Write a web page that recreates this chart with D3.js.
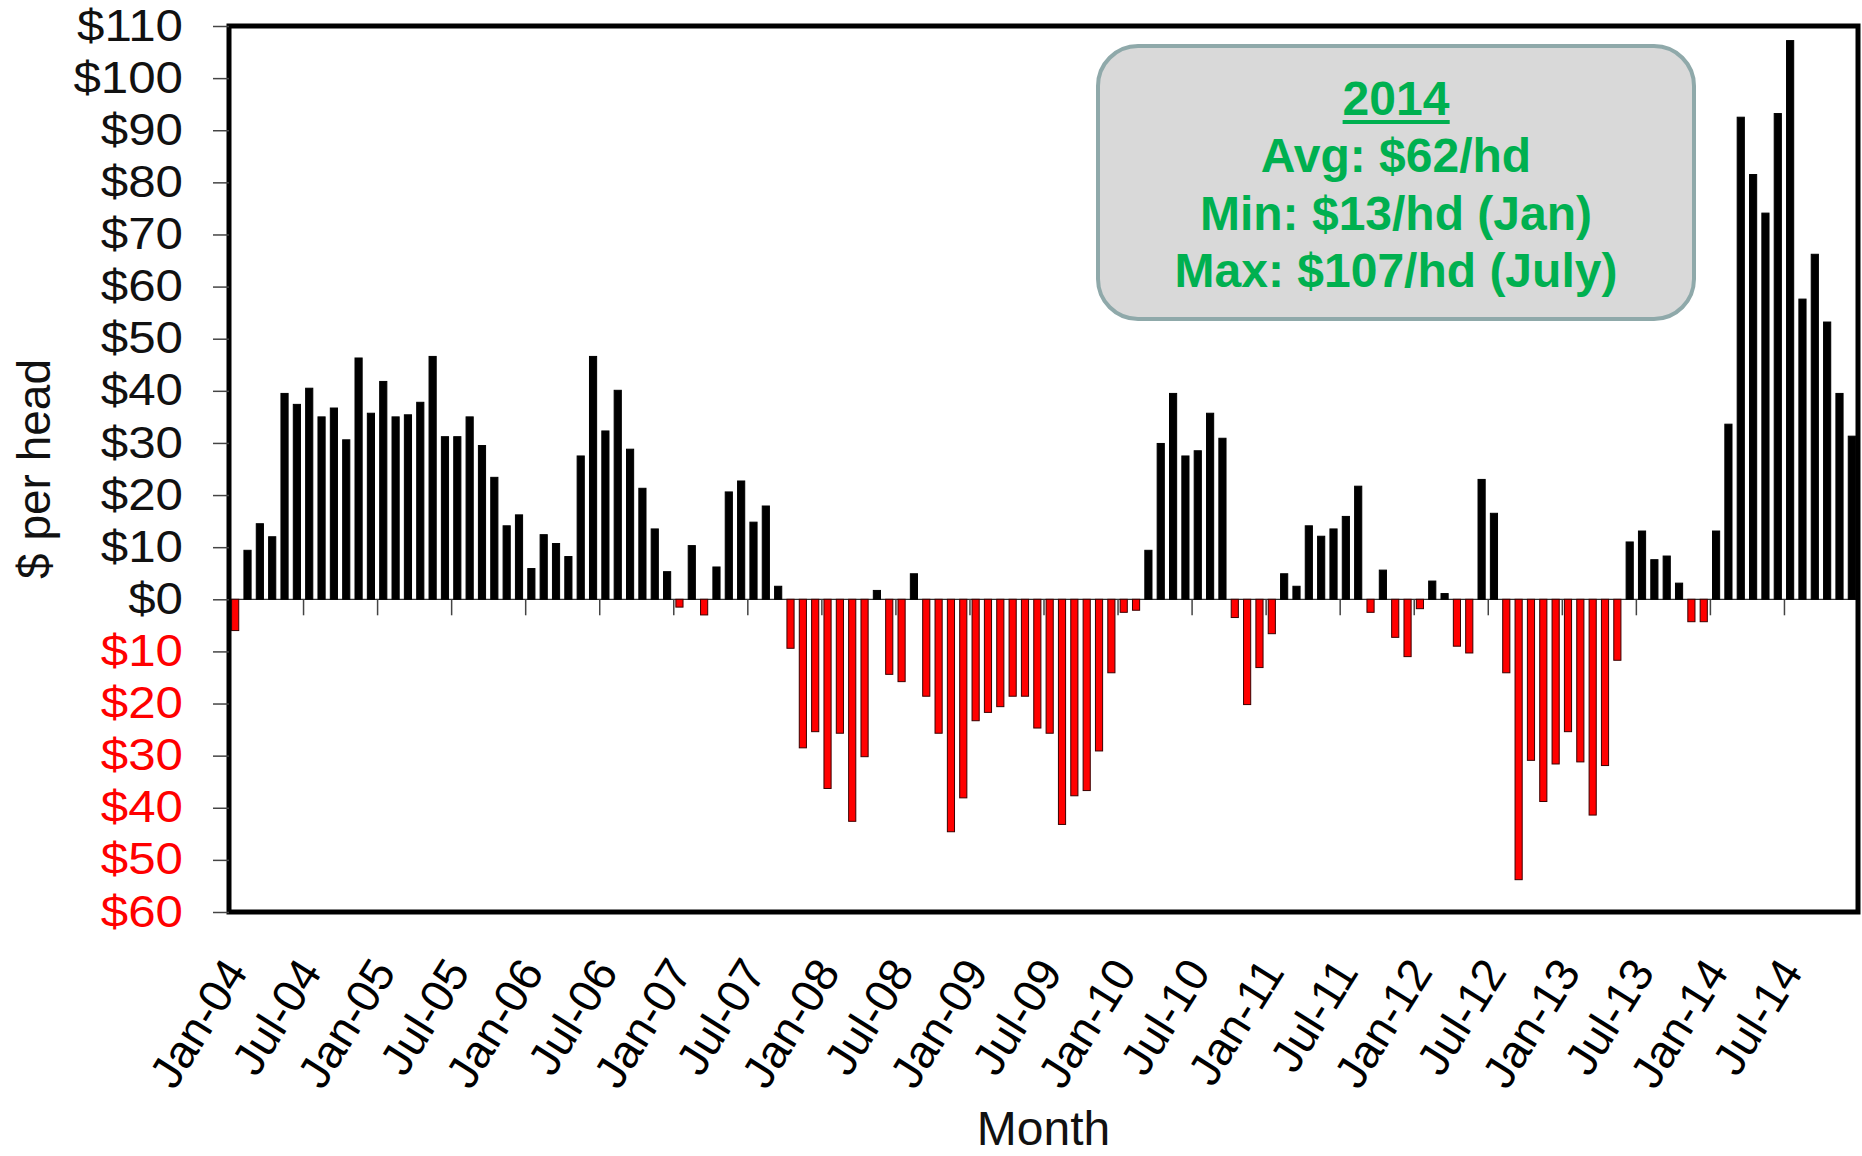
<!DOCTYPE html>
<html>
<head>
<meta charset="utf-8">
<script src="https://cdn.jsdelivr.net/npm/d3@7"></script>
<style>
  body { margin: 0; background: #fff; }
  svg { display: block; font-family: "Liberation Sans", Arial, sans-serif; }
</style>
</head>
<body>
<svg id="chart" width="1862" height="1156"></svg>
<script>
// monthly margin, $ per head, Jan-04 .. Dec-14
const years = ['04', '05', '06', '07', '08', '09', '10', '11', '12', '13', '14'];
const monthNames = ['Jan', 'Feb', 'Mar', 'Apr', 'May', 'Jun', 'Jul', 'Aug', 'Sep', 'Oct', 'Nov', 'Dec'];
const months = years.flatMap(y => monthNames.map(m => `${m}-${y}`));

const values = [
  -6, 9.4, 14.5, 12.0, 39.5, 37.4, 40.5, 35.0, 36.7, 30.6, 46.3, 35.7,          // 2004
  41.8, 35.0, 35.4, 37.8, 46.6, 31.2, 31.2, 35.0, 29.5, 23.4, 14.1, 16.2,       // 2005
  5.9, 12.4, 10.7, 8.2, 27.5, 46.6, 32.3, 40.1, 28.8, 21.3, 13.5, 5.3,          // 2006
  -1.5, 10.3, -3.0, 6.2, 20.6, 22.7, 14.8, 17.9, 2.5, -9.4, -28.5, -25.4,       // 2007
  -36.3, -25.7, -42.6, -30.2, 1.7, -14.4, -15.8, 4.9, -18.6, -25.7, -44.6, -38.1, // 2008
  -23.3, -21.7, -20.6, -18.6, -18.6, -24.7, -25.7, -43.2, -37.7, -36.7, -29.1, -14.1, // 2009
  -2.5, -2.1, 9.4, 29.9, 39.5, 27.5, 28.5, 35.7, 30.9, -3.5, -20.2, -13.1,      // 2010
  -6.6, 4.9, 2.5, 14.1, 12.1, 13.5, 15.9, 21.7, -2.5, 5.6, -7.3, -11.0,         // 2011
  -1.8, 3.5, 1.1, -9.0, -10.3, 23.0, 16.5, -14.1, -53.8, -30.9, -38.8, -31.6,   // 2012
  -25.4, -31.2, -41.4, -31.9, -11.7, 11.0, 13.1, 7.6, 8.3, 3.1, -4.3, -4.3,     // 2013
  13.1, 33.6, 92.5, 81.5, 74.1, 93.2, 107.2, 57.6, 66.2, 53.2, 39.5, 31.3       // 2014
];

const xTickLabels = ['Jan-04', 'Jul-04', 'Jan-05', 'Jul-05', 'Jan-06', 'Jul-06', 'Jan-07', 'Jul-07',
  'Jan-08', 'Jul-08', 'Jan-09', 'Jul-09', 'Jan-10', 'Jul-10', 'Jan-11', 'Jul-11',
  'Jan-12', 'Jul-12', 'Jan-13', 'Jul-13', 'Jan-14', 'Jul-14'];
const yTicks = [-60, -50, -40, -30, -20, -10, 0, 10, 20, 30, 40, 50, 60, 70, 80, 90, 100, 110];

const noteLines = ['2014', 'Avg: $62/hd', 'Min: $13/hd (Jan)', 'Max: $107/hd (July)'];

const plot = { left: 229, right: 1858, top: 26, bottom: 912 };
const svg = d3.select('#chart');

const x = d3.scaleBand()
  .domain(months)
  .range([plot.left, plot.right])
  .paddingInner(0.42)
  .paddingOuter(0.21);

// month boundaries, for the tick marks
const xEdge = d3.scaleLinear()
  .domain([0, months.length])
  .range([plot.left, plot.right]);

const y = d3.scaleLinear()
  .domain([-60, 110])
  .range([plot.bottom, plot.top]);

// zero line
svg.append('line')
  .attr('x1', plot.left).attr('x2', plot.right)
  .attr('y1', y(0)).attr('y2', y(0))
  .attr('stroke', '#333')
  .attr('stroke-width', 1.3);

// tick marks on the zero line
const xTickIdx = xTickLabels.map(l => months.indexOf(l));
svg.append('g')
  .attr('transform', `translate(0,${y(0)})`)
  .call(d3.axisBottom(xEdge).tickValues(xTickIdx).tickSize(16).tickFormat(''))
  .call(g => g.select('.domain').remove())
  .call(g => g.selectAll('.tick line').attr('stroke', '#444').attr('stroke-width', 1.5));

// bars
svg.append('g')
  .selectAll('rect')
  .data(values)
  .enter()
  .append('rect')
  .attr('x', (d, i) => x(months[i]))
  .attr('width', x.bandwidth())
  .attr('y', d => y(Math.max(0, d)))
  .attr('height', d => Math.abs(y(d) - y(0)))
  .attr('fill', d => d < 0 ? '#ff0000' : '#000')
  .attr('stroke', d => d < 0 ? '#3a0000' : '#000')
  .attr('stroke-width', 1);

// plot border
svg.append('rect')
  .attr('x', plot.left).attr('y', plot.top)
  .attr('width', plot.right - plot.left)
  .attr('height', plot.bottom - plot.top)
  .attr('fill', 'none')
  .attr('stroke', '#000')
  .attr('stroke-width', 5);

// y axis
svg.append('g')
  .attr('transform', `translate(${plot.left},0)`)
  .call(d3.axisLeft(y).tickValues(yTicks).tickSize(16).tickFormat(d => '$' + Math.abs(d)))
  .call(g => g.select('.domain').remove())
  .call(g => g.selectAll('.tick line').attr('stroke', '#444').attr('stroke-width', 1.5))
  .call(g => g.selectAll('.tick text')
    .attr('x', 0)
    .attr('transform', 'translate(-46,0) scale(1.12,1)')
    .style('font-size', '44px')
    .style('font-family', '"Liberation Sans", Arial, sans-serif')
    .attr('fill', d => d < 0 ? '#ff0000' : '#111'));

// x labels along the bottom
svg.append('g')
  .selectAll('text')
  .data(xTickLabels)
  .enter()
  .append('text')
  .text(d => d)
  .attr('transform', (d, i) => `translate(${xEdge(xTickIdx[i]) + 20},972) rotate(-58)`)
  .style('text-anchor', 'end')
  .style('font-size', '46px')
  .attr('fill', '#000');

// axis titles
svg.append('text')
  .text('Month')
  .attr('x', (plot.left + plot.right) / 2)
  .attr('y', 1145)
  .style('text-anchor', 'middle')
  .style('font-size', '48px')
  .attr('fill', '#111');

svg.append('text')
  .text('$ per head')
  .attr('transform', `translate(50,${(plot.top + plot.bottom) / 2}) rotate(-90)`)
  .style('text-anchor', 'middle')
  .style('font-size', '46px')
  .attr('fill', '#111');

// 2014 summary box
const note = svg.append('g');
note.append('rect')
  .attr('x', 1098).attr('y', 46)
  .attr('width', 596).attr('height', 273)
  .attr('rx', 40).attr('ry', 40)
  .attr('fill', '#d9d9d9')
  .attr('stroke', '#8fa9aa')
  .attr('stroke-width', 4);

const noteText = note.selectAll('text')
  .data(noteLines)
  .enter()
  .append('text')
  .text(d => d)
  .attr('x', 1396)
  .attr('y', (d, i) => 115 + i * 57.3)
  .style('text-anchor', 'middle')
  .style('font-size', '48px')
  .style('font-weight', 'bold')
  .attr('fill', '#00b050');

// underline the year
const yearBox = noteText.node().getBBox();
note.append('rect')
  .attr('x', yearBox.x).attr('y', 120)
  .attr('width', yearBox.width).attr('height', 4)
  .attr('fill', '#00b050');
</script>
</body>
</html>
